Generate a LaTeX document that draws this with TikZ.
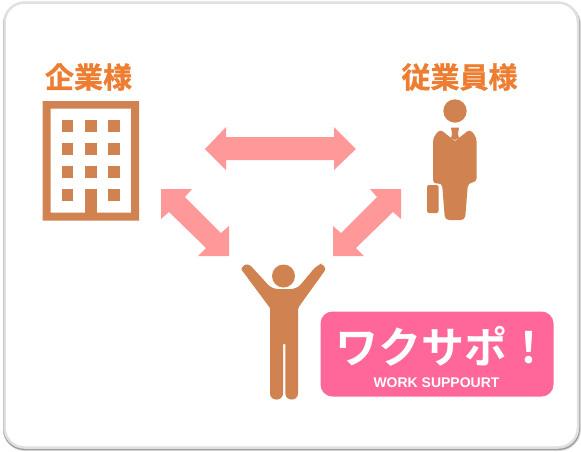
\documentclass[tikz,border=0pt]{standalone}
\usepackage{fontspec}
\setmainfont{Liberation Sans}
\newfontfamily\cjk{Noto Sans CJK JP}[BoldFont={* Bold},BoldFeatures={FakeBold=1}]
\newfontfamily\cjkb{Noto Sans CJK JP}[BoldFont={* Bold}]
\definecolor{body}{HTML}{D08350}
\definecolor{lab}{HTML}{ED7D31}
\definecolor{arr}{HTML}{FF9999}
\definecolor{pinkb}{HTML}{FF6699}
\tikzset{fig/.style={fill=body,draw=none},
 dbl/.style={fill=arr,draw=none},
 lbl/.style={font=\cjk\bfseries\fontsize{29}{29}\selectfont,text=lab,inner sep=0pt}}
\begin{document}
\begin{tikzpicture}[x=1pt,y=-1pt]
\useasboundingbox (0,0) rectangle (581,451);
\fill[white] (0,0) rectangle (581,451);
\fill[black!15,rounded corners=22pt] (3,3) rectangle (581,451);
\fill[black!38,rounded corners=21pt] (3,3) rectangle (580,450);
\draw[line width=2.5pt,draw=black!12,fill=white,rounded corners=20pt] (4.5,2.5) rectangle (578,447.5);
\node[lbl] (a) at (88.5,77) {企業様};
\node[lbl] (b) at (459.5,77) {従業員様};
% building
\fill[fig,even odd rule] (42.5,101) rectangle (139,220.5) (50.5,108.5) rectangle (131,212.5);
\fill[fig] (85,189) rectangle (96.7,212.5);
\foreach \y in {120,143.3,166}{\foreach \x in {61.7,85,108.3}{\fill[fig] (\x,\y) rectangle +(11.7,11.7);}}
\fill[fig] (61.7,189) rectangle +(11.7,11.7);
\fill[fig] (108.3,189) rectangle +(11.7,11.7);
% employee
\fill[fig] (455,111) circle (11.7);
\fill[fig,rounded corners=4pt] (433,184) -- (433,138) -- (440,129) -- (446,134) [sharp corners] -- (455,141) -- (464,134) [rounded corners=4pt] -- (470,129) -- (476.7,138) -- (476.7,182) -- (468,183) -- (465,220) -- (445,220) -- (442,183) -- cycle;
\fill[fig] (451,127.5) -- (459,127.5) -- (458,134) -- (459,138) -- (455,140) -- (451,138) -- (452,134) -- cycle;
\fill[fig,rounded corners=2pt] (427,185) rectangle (438.5,213);
% worker
\fill[fig] (283.5,276) circle (11.5);
\fill[fig,rounded corners=2.5pt] (241,269) -- (245,264) -- (250,265) [rounded corners=6pt] -- (272,289) -- (297,289) -- (317,265) [rounded corners=2.5pt] -- (322,263.5) -- (326,269) -- (298,308) [rounded corners=6pt] -- (298,399.5) -- (285.3,399.5) [sharp corners] -- (285.3,344) -- (283,344) [rounded corners=6pt] -- (283,399.5) -- (270,399.5) [rounded corners=1pt] -- (270,308) -- cycle;
% arrows
\fill[dbl] (205,149) -- (226,127) -- (226,137) -- (334,137) -- (334,127) -- (356,149) -- (334,170) -- (334,160) -- (226,160) -- (226,170) -- cycle;
\fill[dbl] (161,189) -- (192,189) -- (185,197) -- (221,233) -- (229,226) -- (229,256) -- (198,256) -- (206,248) -- (169,212) -- (161,219) -- cycle;
\fill[dbl] (401,189) -- (370,189) -- (377,197) -- (341,233) -- (333,226) -- (333,256) -- (364,256) -- (356,248) -- (393,212) -- (401,219) -- cycle;
% badge
\node[fill=pinkb,rounded corners=12pt,minimum width=233pt,minimum height=85pt,inner sep=0pt] (c) at (437,354) {};
\node[inner sep=0pt,text=white,font=\cjkb\bfseries\fontsize{43}{43}\selectfont] (d) at (443,346) {ワクサポ！};
\node[inner sep=0pt,text=white,font=\bfseries\fontsize{14}{14}\selectfont] (e) at (436.5,383) {WORK SUPPOURT};
\end{tikzpicture}
\end{document}
